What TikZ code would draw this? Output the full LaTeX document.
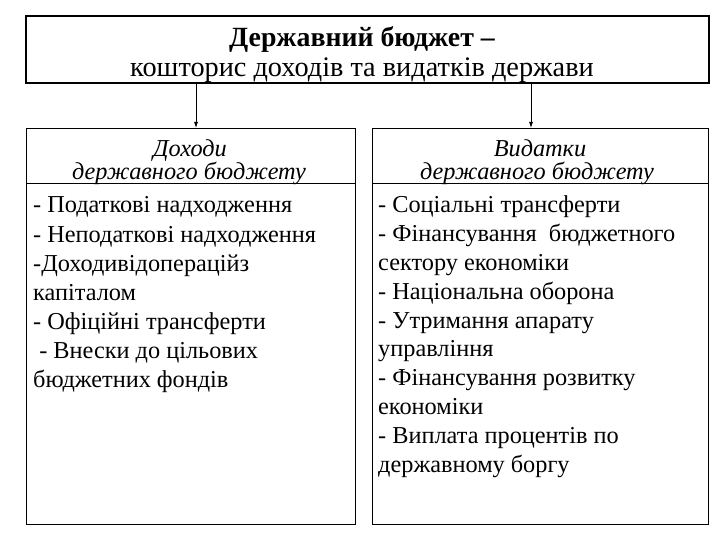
\documentclass[tikz,border=0pt]{standalone}
\usepackage{fontspec}
\setmainfont{Liberation Serif}
\usetikzlibrary{arrows.meta}
\begin{document}
\begin{tikzpicture}[x=1pt,y=-1pt,
  box/.style={draw,line width=1pt,inner sep=0pt,anchor=north west},
  itm/.style={anchor=base west,inner sep=0pt,font=\fontsize{24.3}{28}\selectfont},
  hdr/.style={anchor=base,inner sep=0pt,font=\fontsize{24.3}{28}\selectfont\itshape},
  arr/.style={-{Latex[length=6pt,width=4pt]},line width=0.8pt}]
\useasboundingbox (0,0) rectangle (720,540);
\node[box,line width=2pt,minimum width=683pt,minimum height=67pt] (top) at (25,15) {};
\node[anchor=base,inner sep=0pt,font=\fontsize{27.8}{32}\selectfont\bfseries] (t1) at (362,47) {Державний бюджет –};
\node[anchor=base,inner sep=0pt,font=\fontsize{28.3}{32}\selectfont] (t2) at (362,77) {кошторис доходів та видатків держави};
\node[box,minimum width=329pt,minimum height=396pt] (L) at (26,128) {};
\node[box,minimum width=336pt,minimum height=396pt] (R) at (372,128) {};
\coordinate (la) at (196,82);
\coordinate (ra) at (531,82);
\draw[arr] (la) -- (la |- L.north);
\draw[arr] (ra) -- (ra |- R.north);
\draw[line width=0.8pt] (L.west |- 0,183) -- (L.east |- 0,183);
\draw[line width=0.8pt] (R.west |- 0,183) -- (R.east |- 0,183);
\node[hdr] (lh1) at (190,157) {Доходи};
\node[hdr] (lh2) at (189,180) {державного бюджету};
\node[hdr] (rh1) at (540,157) {Видатки};
\node[hdr] (rh2) at (537,180) {державного бюджету};
\foreach \t [count=\i] in {- Податкові надходження,- Неподаткові надходження,-Доходивідопераційз,капіталом,- Офіційні трансферти,\ - Внески до цільових,бюджетних фондів}
  \node[itm] (l\i) at (33,{184+29*\i}) {\t};
\foreach \t [count=\i] in {- Соціальні трансферти,- Фінансування \ бюджетного,сектору економіки,- Національна оборона,- Утримання апарату,управління,- Фінансування розвитку,економіки,- Виплата процентів по,державному боргу}
  \node[itm] (r\i) at (378,{184+28.8*\i}) {\t};
\end{tikzpicture}
\end{document}
